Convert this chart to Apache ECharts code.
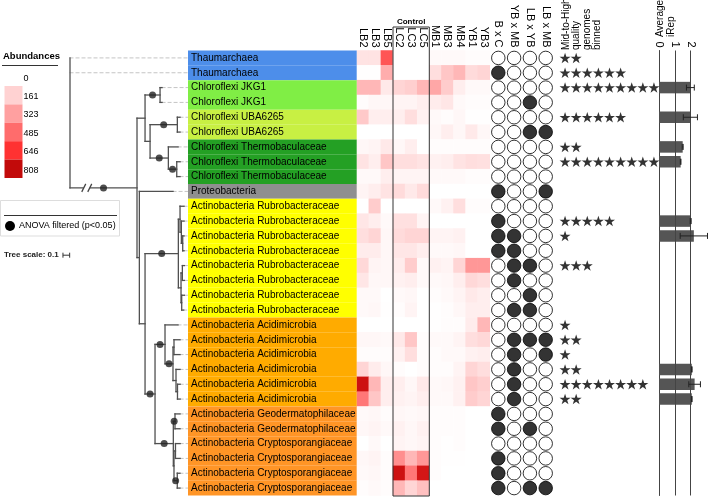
<!DOCTYPE html>
<html><head><meta charset="utf-8">
<script src="https://cdn.jsdelivr.net/npm/echarts@6/dist/echarts.min.js"></script>
<style>html,body{margin:0;padding:0;background:#fff}#c{width:709px;height:498px}</style>
</head><body><div id="c"></div>
<script>
// ---------------- DATA ----------------
const taxa = [
  'Thaumarchaea','Thaumarchaea',
  'Chloroflexi JKG1','Chloroflexi JKG1',
  'Chloroflexi UBA6265','Chloroflexi UBA6265',
  'Chloroflexi Thermobaculaceae','Chloroflexi Thermobaculaceae','Chloroflexi Thermobaculaceae',
  'Proteobacteria',
  'Actinobacteria Rubrobacteraceae','Actinobacteria Rubrobacteraceae','Actinobacteria Rubrobacteraceae','Actinobacteria Rubrobacteraceae',
  'Actinobacteria Rubrobacteraceae','Actinobacteria Rubrobacteraceae','Actinobacteria Rubrobacteraceae','Actinobacteria Rubrobacteraceae',
  'Actinobacteria Acidimicrobia','Actinobacteria Acidimicrobia','Actinobacteria Acidimicrobia',
  'Actinobacteria Acidimicrobia','Actinobacteria Acidimicrobia','Actinobacteria Acidimicrobia',
  'Actinobacteria Geodermatophilaceae','Actinobacteria Geodermatophilaceae',
  'Actinobacteria Cryptosporangiaceae','Actinobacteria Cryptosporangiaceae','Actinobacteria Cryptosporangiaceae','Actinobacteria Cryptosporangiaceae'
];
const samples = ['LB2','LB3','LB5','LC2','LC3','LC5','MB1','MB3','MB4','YB1','YB3'];
const controlSamples = ['LC2','LC3','LC5'];
const abundance = [
  [100,100,550,0,0,0,20,20,20,10,10],
  [5,5,280,0,0,0,120,200,250,130,150],
  [250,250,80,150,170,250,300,180,60,20,20],
  [10,30,30,40,40,60,70,90,20,10,10],
  [190,60,60,60,120,50,20,10,30,5,5],
  [0,0,0,0,0,0,30,60,30,80,30],
  [30,40,80,30,60,0,10,10,10,10,10],
  [100,60,200,120,120,100,50,60,100,120,110],
  [20,20,60,40,40,40,20,20,20,10,10],
  [40,60,100,130,80,130,0,0,0,0,0],
  [0,180,0,0,0,0,20,50,120,10,10],
  [90,60,20,110,110,40,0,0,0,0,0],
  [120,150,30,130,150,150,40,40,50,0,0],
  [70,70,30,90,90,60,20,20,30,0,0],
  [140,40,30,70,180,20,50,40,150,350,350],
  [90,30,30,50,60,20,20,30,60,140,120],
  [20,20,0,20,30,0,10,20,40,80,60],
  [20,30,5,10,40,0,5,10,30,60,60],
  [0,0,0,0,0,0,5,10,10,70,250],
  [30,30,20,80,200,10,20,20,40,120,140],
  [10,10,10,50,120,10,10,20,20,50,60],
  [150,70,30,10,0,10,10,10,40,150,120],
  [780,250,60,60,30,80,20,30,50,200,170],
  [450,200,60,50,40,60,20,20,50,180,150],
  [20,30,10,30,20,30,10,10,10,0,0],
  [30,40,20,50,30,50,10,10,10,0,0],
  [0,20,0,40,30,40,10,5,10,0,0],
  [30,40,10,380,250,350,10,5,5,0,0],
  [20,30,10,780,450,760,10,0,0,0,0],
  [10,20,10,250,150,220,0,0,0,0,0]
];
const legendTicks = [0,161,323,485,646,808];
const comparisons = ['B x C','YB x MB','LB x YB','LB x MB'];
const anovaSig = [
  [0,0,0,0],[1,0,0,0],[0,0,0,0],[0,0,1,0],[0,0,0,0],[0,0,1,1],
  [0,0,0,0],[0,0,0,0],[0,0,0,0],[1,0,0,1],
  [0,0,0,0],[1,0,0,0],[1,1,0,0],[1,1,0,0],[0,1,1,0],[0,1,0,0],[0,0,1,0],[0,1,1,0],
  [0,0,0,0],[0,1,1,1],[0,1,0,1],[0,1,0,0],[0,1,0,0],[0,1,0,0],
  [1,0,0,0],[1,0,1,0],[0,0,0,0],[1,0,0,0],[1,0,0,0],[1,0,1,1]
];
const genomeCounts = [2,6,9,0,6,0,2,9,0,0,0,5,1,0,3,0,0,0,1,2,1,2,8,2,0,0,0,0,0,0];
const iRep    = [null,null,1.98,null,1.98,null,1.49,1.36,null,null,null,2.0,2.2,null,null,null,null,null,null,null,null,2.07,2.25,2.07,null,null,null,null,null,null];
const iRepErr = [null,null,0.25,null,0.45,null,0.03,0.02,null,null,null,0.03,0.87,null,null,null,null,null,null,null,null,0.02,0.37,0.02,null,null,null,null,null,null];
const iRepTicks = [0,1,2];
// tree: N(branchLength, supported, ...children), L(row, branchLength)
function N(len, dot, ...kids){return {len, dot, kids};}
function L(row, len){return {len, row};}
const tree = N(0,0,
  L(0,0), L(1,0),
  Object.assign(N(1.0,1,
    N(0.12,0,
      N(0.224,1, L(2,0.03), L(3,0.03)),
      N(0.075,0,
        N(0.407,1, L(4,0.04), L(5,0.04)),
        N(0.273,1, L(6,0.145), N(0.125,1, L(7,0.05), L(8,0.05))))),
    N(0.035,0,
      L(9,0.503),
      N(0.085,0,
        N(0.497,1,
          N(0.025,0, L(10,0.06), N(0.02,0, L(11,0.04), N(0.02,0, L(12,0.02), L(13,0.02)))),
          N(0.04,0, N(0.02,0, L(14,0.03), L(15,0.03)), N(0.01,0, L(16,0.04), L(17,0.03)))),
        N(0.149,1,
          N(0.149,1, L(18,0.194),
            N(0.119,1, N(0.015,0, L(19,0.09), L(20,0.09)),
                       N(0.045,0, L(21,0.06), N(0.022,0, L(22,0.04), L(23,0.04))))),
          N(0.273,1,
            N(0.025,1, L(24,0.075), L(25,0.075)),
            N(0.01,0, N(0.022,0, L(26,0.07), L(27,0.07)), N(0.049,1, L(28,0.04), L(29,0.04)))))))),
  {brk:true})
);
const treeScale = 0.1;

// ---------------- STYLE ----------------
const FONT = 'Liberation Sans, Arial, Helvetica, sans-serif';
const groupColor = {
  'Thaumarchaea':'#4d8eea',
  'Chloroflexi JKG1':'#80ee45',
  'Chloroflexi UBA6265':'#c8f043',
  'Chloroflexi Thermobaculaceae':'#24a024',
  'Proteobacteria':'#8f8f8f',
  'Actinobacteria Rubrobacteraceae':'#ffff00',
  'Actinobacteria Acidimicrobia':'#ffab00',
  'Actinobacteria Geodermatophilaceae':'#ff9526',
  'Actinobacteria Cryptosporangiaceae':'#ff9526'
};
const scaleColors = ['#ffffff','#ffd2d2','#ffa0a0','#ff6c6c','#ff3232','#c20a0a'];
const nRows = taxa.length;
const rowCats = taxa.map((t,i)=>String(i));
const TOP = 50.5, H = 445;
const TREE_LEFT = 70, TREE_W = 118, TREE_MAX = 1.761;

// ---------------- TREE LAYOUT ----------------
const solid = [], dashed = [], dots = [], breaks = [];
function layout(node, px, parent){
  node.x = px + node.len;
  if (node.kids){
    node.kids.forEach(k=>layout(k, node.x, node));
    node.y = (node.kids[0].y + node.kids[node.kids.length-1].y)/2;
    solid.push([node.x, node.kids[0].y, node.x, node.kids[node.kids.length-1].y]);
  } else {
    node.y = node.row;
    dashed.push([node.x, node.y, TREE_MAX, node.y]);
  }
  if (parent){
    if (node.len > 0) solid.push([px, node.y, node.x, node.y]);
    if (node.dot) dots.push([(px+node.x)/2, node.y]);
    if (node.brk) breaks.push([px + node.len*0.25, node.y]);
  }
}
layout(tree, 0, null);

// ---------------- DERIVED SERIES DATA ----------------
const heatData = [];
abundance.forEach((row,r)=>row.forEach((v,c)=>heatData.push([c,r,v])));
const circleData = [];
anovaSig.forEach((row,r)=>row.forEach((v,c)=>circleData.push({value:[c,r], sig:v})));
const starData = [];
genomeCounts.forEach((n,r)=>{for(let k=0;k<n;k++) starData.push([k,r]);});
const errData = [];
iRep.forEach((v,r)=>{ if(v!=null) errData.push([v,r,iRepErr[r]]); });
const ctrlIdx = controlSamples.map(s=>samples.indexOf(s));

const STAR = 'path://M50,0 L61.8,35.1 L98.9,35.1 L69,57.4 L80.4,92.7 L50,71 L19.6,92.7 L31,57.4 L1.1,35.1 L38.2,35.1 Z';

function lineItem(color, width, dash){
  return function(params, api){
    const p1 = api.coord([api.value(0), api.value(1)]);
    const p2 = api.coord([api.value(2), api.value(3)]);
    return {type:'line', shape:{x1:p1[0],y1:p1[1],x2:p2[0],y2:p2[1]},
      style:{stroke:color, lineWidth:width, lineDash:dash||null, lineCap:'square'}};
  };
}

const chart = echarts.init(document.getElementById('c'), null, {renderer:'canvas'});
const catY = (gi)=>({type:'category', gridIndex:gi, data:rowCats, inverse:true, show:false});

// legend graphic
const graphic = [];
graphic.push({type:'text', left:3, top:51, style:{text:'Abundances', fontFamily:FONT, fontSize:9.5, fontWeight:'bold', fill:'#000'}});
graphic.push({type:'line', shape:{x1:2,y1:65.5,x2:58,y2:65.5}, style:{stroke:'#333', lineWidth:1}});
legendTicks.forEach((t,i)=>{
  const y0 = 67.6 + i*18.4;
  graphic.push({type:'rect', shape:{x:4.5, y:y0, width:18, height:18.4}, style:{fill:scaleColors[i]}});
  graphic.push({type:'text', x:23.5, y:y0+10.5, style:{text:String(t), fontFamily:FONT, fontSize:9, fill:'#000', align:'left', verticalAlign:'middle'}});
});
graphic.push({type:'rect', shape:{x:0.5,y:200.5,width:119,height:35.5}, style:{fill:'none', stroke:'#dddddd', lineWidth:1}});
graphic.push({type:'line', shape:{x1:4,y1:215.5,x2:117,y2:215.5}, style:{stroke:'#333', lineWidth:1}});
graphic.push({type:'circle', shape:{cx:10,cy:226,r:5}, style:{fill:'#000'}});
graphic.push({type:'text', x:19, y:226, style:{text:'ANOVA filtered (p<0.05)', fontFamily:FONT, fontSize:9, fill:'#000', align:'left', verticalAlign:'middle'}});
graphic.push({type:'text', x:4, y:255, style:{text:'Tree scale: 0.1', fontFamily:FONT, fontSize:8, fontWeight:'bold', fill:'#222', align:'left', verticalAlign:'middle'}});
graphic.push({type:'text', x:561, y:50, rotation:Math.PI/2, style:{text:'Mid-to-High\nquality\ngenomes\nbinned', fontFamily:FONT, fontSize:10, lineHeight:10.4, fill:'#000', align:'left', verticalAlign:'top'}});
graphic.push({type:'text', x:655, y:37, rotation:Math.PI/2, style:{text:'Average\niRep', fontFamily:FONT, fontSize:10, lineHeight:11, fill:'#000', align:'left', verticalAlign:'top'}});

const option = {
  animation:false,
  backgroundColor:'#fff',
  textStyle:{fontFamily:FONT},
  grid:[
    {left:TREE_LEFT, top:TOP, width:TREE_W, height:H},
    {left:188, top:TOP, width:168.7, height:H},
    {left:356.7, top:TOP, width:133.1, height:H},
    {left:490.4, top:TOP, width:63.2, height:H},
    {left:559.5, top:TOP, width:100, height:H},
    {left:659.3, top:TOP, width:47.1, height:H}
  ],
  xAxis:[
    {type:'value', gridIndex:0, min:0, max:TREE_MAX, show:false},
    {type:'value', gridIndex:1, min:0, max:1, show:false},
    {type:'category', gridIndex:2, data:samples, position:'top', axisLine:{show:false}, axisTick:{show:false},
      axisLabel:{rotate:90, interval:0, fontSize:11, color:'#000', margin:3}},
    {type:'category', gridIndex:3, data:comparisons, position:'top', axisLine:{show:false}, axisTick:{show:false},
      axisLabel:{rotate:90, interval:0, fontSize:11, color:'#000', margin:3}},
    {type:'value', gridIndex:4, min:-0.5, max:8.5, show:false},
    {type:'value', gridIndex:5, min:0, max:3, interval:1, position:'top', axisLine:{show:false}, axisTick:{show:false},
      splitLine:{show:false},
      axisLabel:{rotate:90, fontSize:11, color:'#000', margin:3, formatter:v=>iRepTicks.includes(v)?String(v):''}}
  ],
  yAxis:[
    {type:'value', gridIndex:0, min:-0.5, max:nRows-0.5, inverse:true, show:false},
    catY(1), catY(2), catY(3), catY(4),
    {type:'category', gridIndex:5, data:rowCats, inverse:true, axisLine:{show:true, lineStyle:{color:'#444', width:1}},
      axisTick:{show:false}, axisLabel:{show:false}}
  ],
  visualMap:[{type:'continuous', show:false, seriesIndex:6, min:0, max:808, inRange:{color:scaleColors}}],
  series:[
    {type:'custom', xAxisIndex:0, yAxisIndex:0, data:solid, renderItem:lineItem('#505050',1.3), clip:false, silent:true, z:3},
    {type:'custom', xAxisIndex:0, yAxisIndex:0, data:dashed, renderItem:lineItem('#c4c4c4',1,[3,3]), clip:false, silent:true, z:2},
    {type:'scatter', xAxisIndex:0, yAxisIndex:0, data:dots, symbolSize:7, itemStyle:{color:'#222'}, z:4, silent:true},
    {type:'custom', xAxisIndex:0, yAxisIndex:0, data:breaks, clip:false, silent:true, z:5,
      renderItem:(p,api)=>{const c=api.coord([api.value(0),api.value(1)]);
        return {type:'group', children:[
          {type:'rect', shape:{x:c[0]-3,y:c[1]-2,width:6,height:4}, style:{fill:'#fff'}},
          {type:'line', shape:{x1:c[0]-5,y1:c[1]+4,x2:c[0]-1,y2:c[1]-4}, style:{stroke:'#444',lineWidth:1.2}},
          {type:'line', shape:{x1:c[0]+1,y1:c[1]+4,x2:c[0]+5,y2:c[1]-4}, style:{stroke:'#444',lineWidth:1.2}}
        ]};}},
    {type:'custom', xAxisIndex:0, yAxisIndex:0, data:[[-treeScale-0.005, 13.3]], clip:false, silent:true,
      renderItem:(p,api)=>{const a=api.coord([api.value(0),api.value(1)]); const b=api.coord([api.value(0)+treeScale,api.value(1)]);
        return {type:'group', children:[
          {type:'line', shape:{x1:a[0],y1:a[1],x2:b[0],y2:b[1]}, style:{stroke:'#333',lineWidth:1}},
          {type:'line', shape:{x1:a[0],y1:a[1]-2.5,x2:a[0],y2:a[1]+2.5}, style:{stroke:'#333',lineWidth:1}},
          {type:'line', shape:{x1:b[0],y1:b[1]-2.5,x2:b[0],y2:b[1]+2.5}, style:{stroke:'#333',lineWidth:1}}
        ]};}},
    {type:'bar', xAxisIndex:1, yAxisIndex:1, barWidth:'100%', silent:true,
      data:taxa.map(t=>({value:1, itemStyle:{color:groupColor[t]}})),
      label:{show:true, position:'insideLeft', distance:3, formatter:p=>taxa[p.dataIndex], fontSize:10, color:'#000', fontFamily:FONT}},
    {type:'heatmap', xAxisIndex:2, yAxisIndex:2, data:heatData, silent:true, itemStyle:{borderWidth:0}},
    {type:'custom', xAxisIndex:2, yAxisIndex:2, data:[[ctrlIdx[0], ctrlIdx[ctrlIdx.length-1]]], clip:false, silent:true, z:5,
      renderItem:(p,api)=>{
        const i0=api.value(0), i1=api.value(1);
        const bw=api.size([1,0])[0], bh=api.size([0,1])[1];
        const a=api.coord([i0,0]), b=api.coord([i1,nRows-1]);
        const l=a[0]-bw/2, r=b[0]+bw/2, t=a[1]-bh/2-23.5, bt=b[1]+bh/2+0.5;
        return {type:'group', children:[
          {type:'rect', shape:{x:l,y:t,width:r-l,height:bt-t}, style:{fill:'none', stroke:'#333', lineWidth:1}},
          {type:'text', x:(l+r)/2, y:t-1, style:{text:'Control', fontFamily:FONT, fontSize:8, fontWeight:'bold', fill:'#000', align:'center', verticalAlign:'bottom'}}
        ]};}},
    {type:'scatter', xAxisIndex:3, yAxisIndex:3, symbolSize:13.5, silent:true,
      data:circleData.map(d=>({value:d.value, itemStyle:{color:d.sig?'#000':'#fff'}})),
      itemStyle:{borderColor:'#000', borderWidth:1}},
    {type:'scatter', xAxisIndex:4, yAxisIndex:4, symbol:STAR, symbolSize:11, symbolKeepAspect:true, silent:true,
      data:starData, itemStyle:{color:'#000'}},
    {type:'bar', xAxisIndex:5, yAxisIndex:5, barWidth:11.5, data:iRep, silent:true, itemStyle:{color:'#555555'},
      markLine:{silent:true, symbol:'none', label:{show:false}, lineStyle:{color:'#444', type:'solid', width:1},
        data:iRepTicks.filter(v=>v>0).map(v=>({xAxis:v}))}},
    {type:'custom', xAxisIndex:5, yAxisIndex:5, data:errData, clip:false, silent:true, z:5,
      renderItem:(p,api)=>{
        const v=api.value(0), r=api.value(1), e=api.value(2);
        const a=api.coord([v-e,r]), b=api.coord([v+e,r]);
        return {type:'group', children:[
          {type:'line', shape:{x1:a[0],y1:a[1],x2:b[0],y2:b[1]}, style:{stroke:'#222',lineWidth:1}},
          {type:'line', shape:{x1:a[0],y1:a[1]-3,x2:a[0],y2:a[1]+3}, style:{stroke:'#222',lineWidth:1}},
          {type:'line', shape:{x1:b[0],y1:b[1]-3,x2:b[0],y2:b[1]+3}, style:{stroke:'#222',lineWidth:1}}
        ]};}}
  ],
  graphic: graphic
};
chart.setOption(option);
</script></body></html>
